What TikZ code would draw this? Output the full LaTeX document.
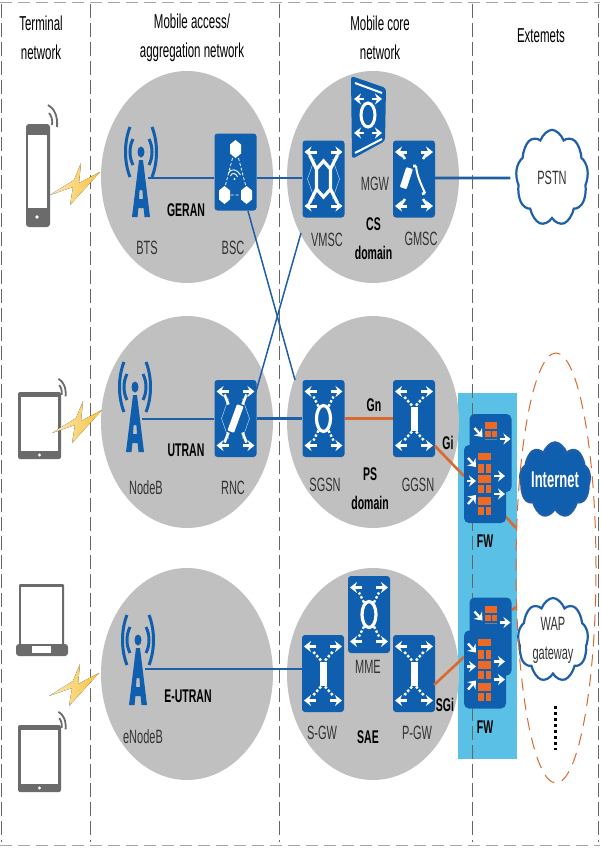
\documentclass[tikz,border=0pt]{standalone}
\usepackage{fontspec}
\setmainfont{Liberation Sans}
\usetikzlibrary{shapes.geometric,shapes.symbols,arrows.meta,calc}

\definecolor{devblue}{HTML}{0F5FAE}
\definecolor{linkblue}{HTML}{1F5FA8}
\definecolor{domaingray}{HTML}{C0C0C0}
\definecolor{fwcyan}{HTML}{5BC0E6}
\definecolor{linkorange}{HTML}{D9692F}
\definecolor{brickorange}{HTML}{EE6A24}
\definecolor{termgray}{HTML}{6B6B6B}
\definecolor{boltyellow}{HTML}{F8C440}

\tikzset{
  txt/.style={font=\fontsize{11}{16.5}\selectfont,text=black!80,yscale=1.75,transform shape,inner sep=0,align=center},
  headtxt/.style={txt,font=\fontsize{11.5}{16.5}\selectfont,text=black},
  boldtxt/.style={txt,font=\fontsize{10.5}{16.5}\selectfont\bfseries,text=black},
  graydomain/.style={ellipse,fill=domaingray,minimum width=172,minimum height=212,inner sep=0},
  devbox/.style={rectangle,rounded corners=3,fill=devblue,minimum width=42,minimum height=77,inner sep=0},
  fwbox/.style={rectangle,rounded corners=5,fill=devblue,minimum width=42,minimum height=78,inner sep=0},
  mast/.style={minimum width=14,minimum height=78,inner sep=0},
  netcloud/.style={cloud,cloud puffs=9,cloud puff arc=110,cloud ignores aspect,draw=linkblue,line width=2.2,fill=white,yscale=1.75,transform shape,minimum width=72,minimum height=55,inner sep=0,align=center,font=\fontsize{11}{16.5}\selectfont,text=black!80},
  bluelink/.style={linkblue,line width=2.6},
  thinlink/.style={linkblue,line width=1.5},
  orangelink/.style={linkorange,line width=2.6},
  sepline/.style={black!60,line width=0.8,dash pattern=on 14 off 5},
  edgeline/.style={black!35,line width=1.6,dash pattern=on 12 off 6},
  wharrow/.style={white,line width=3,-{Stealth[length=7,width=11]}},
  whline/.style={white,line width=2},
  towerpic/.pic={
    \fill[devblue] (0,0) ellipse (3.5 and 5.5);
    \draw[devblue,line width=3] (-8,-13) .. controls (-12,-5) and (-12,5) .. (-8,13);
    \draw[devblue,line width=3] (8,-13) .. controls (12,-5) and (12,5) .. (8,13);
    \draw[devblue,line width=3] (-11,-25) .. controls (-17,-10) and (-17,10) .. (-11,25);
    \draw[devblue,line width=3] (11,-25) .. controls (17,-10) and (17,10) .. (11,25);
    \fill[devblue,even odd rule] (-2,8) -- (2,8) -- (9,65) -- (3.5,65) -- (2.6,56) -- (-2.6,56) -- (-3.5,65) -- (-9,65) -- cycle
      (-1.4,38) -- (1.4,38) -- (2,47) -- (-2,47) -- cycle;
  },
  cornerspic/.pic={
    \foreach \sx in {-1,1} \foreach \sy in {-1,1} {
      \draw[wharrow] (\sx*7,\sy*27) -- (\sx*19,\sy*27);
    }
  },
  hexpic/.pic={
    \draw[white!70!devblue,line width=0.5] (-9,-20) -- (-16,0) -- (-9,20) (9,-20) -- (16,0) -- (9,20);
    \draw[whline,line width=3.2] (-7,-10) -- (0,-18) -- (7,-10) -- (7,10) -- (0,18) -- (-7,10) -- cycle;
    \foreach \sx in {-1,1} \foreach \sy in {-1,1} {
      \draw[whline,line width=3.2] (\sx*7,\sy*10) -- (\sx*14,\sy*24);
    }
  },
  ringpic/.pic={
    \draw[white,line width=3.2] (0,0) ellipse (7 and 13);
    \foreach \sx in {-1,1} \foreach \sy in {-1,1} {
      \draw[white,line width=2.4,dash pattern=on 2.5 off 2] (\sx*5,\sy*12) -- (\sx*10,\sy*22);
    }
  },
  barpic/.pic={
    \fill[white] (-3.5,-12) rectangle (3.5,12);
    \foreach \sx in {-1,1} \foreach \sy in {-1,1} {
      \draw[white,line width=2.4,dash pattern=on 2.5 off 2] (\sx*2,\sy*13) -- (\sx*10,\sy*22);
    }
  },
  slashpic/.pic={
    \draw[white!70!devblue,line width=0.5] (-7,-20) -- (-14,0) -- (-7,20) (7,-20) -- (14,0) -- (7,20);
    \fill[white,rotate=-20,rounded corners=1] (-3.5,-14) rectangle (3.5,14);
    \foreach \sx in {-1,1} \foreach \sy in {-1,1} {
      \draw[whline,line width=2.6] (\sx*7,\sy*14) -- (\sx*11,\sy*24);
    }
  },
  phonepic/.pic={
    \fill[white,rotate=-18,rounded corners=1] (-11,-9) rectangle (-4,12);
    \draw[white,line width=2] (2,-13) .. controls (3,-3) and (7,5) .. (11,14);
    \draw[white,line width=2.6] (11,14) -- (8,15) (2,-13) -- (-1,-13);
    \foreach \sx in {-1,1} \foreach \sy in {-1,1} {
      \draw[whline,line width=2.6] (\sx*9,\sy*20) -- (\sx*13,\sy*26);
    }
  },
  trianglepic/.pic={
    \foreach \hx/\hy in {0/-23,-11/23,11/23} {
      \fill[white] (\hx,\hy-9) -- (\hx+5.5,\hy-4.5) -- (\hx+5.5,\hy+4.5) -- (\hx,\hy+9) -- (\hx-5.5,\hy+4.5) -- (\hx-5.5,\hy-4.5) -- cycle;
    }
    \draw[white,line width=0.8,dash pattern=on 3 off 2] (-3,-14) -- (-10,13) (3,-14) -- (10,13) (-5,23) -- (5,23);
    \fill[white] (-1,7) circle (1.2);
    \draw[white,line width=0.9] (-5,4) .. controls (-4,0) and (1,1) .. (2,5);
    \draw[white,line width=0.9] (-7,1) .. controls (-5,-4) and (2,-3) .. (5,3);
  },
  bricksA/.pic={
    \foreach \by/\bh in {-31/7,-9/8,13/8} {
      \fill[brickorange] (-7,\by) rectangle (6,\by+\bh);
    }
    \foreach \by/\bh in {-20/9,1/8,23/8} {
      \fill[brickorange] (-7,\by) rectangle (-1.5,\by+\bh);
      \fill[brickorange] (0.5,\by) rectangle (6,\by+\bh);
    }
    \draw[wharrow,line width=2.4] (-17,-26) -- (-9,-17);
    \draw[wharrow,line width=2.4] (-18,-3) -- (-9,-3);
    \draw[wharrow,line width=2.4] (-17,20) -- (-9,11);
    \draw[wharrow,line width=2.4] (9,-8) -- (20,-8);
    \draw[wharrow,line width=2.4] (9,10) -- (20,10);
  },
  bricksB/.pic={
    \fill[brickorange] (-5.5,-31) rectangle (6.5,-24);
    \fill[brickorange] (-5.5,-22) rectangle (0,-16);
    \fill[brickorange] (1,-22) rectangle (6.5,-16);
    \draw[black!50,line width=0.8] (-5.5,-13.5) -- (6.5,-13.5);
    \draw[wharrow,line width=2.4] (-16,-25) -- (-8,-16);
    \draw[wharrow,line width=2.4] (9,-14) -- (20,-14);
  },
  termwaves/.pic={
    \draw[termgray,line width=1.8] (-2,-19) .. controls (4,-16) and (8,-8) .. (7,3);
    \draw[termgray,line width=1.8] (-1,-11) .. controls (1,-9) and (3,-4) .. (2,1);
  },
  tabletpic/.pic={
    \fill[termgray,rounded corners=2] (0,0) rectangle (43,67);
    \fill[white] (3,5) rectangle (40,59);
    \fill[white] (21.5,63) circle (1.6);
  },
  boltpic/.pic={
    \fill[left color=boltyellow!40,right color=boltyellow] (0,32) -- (24,17) -- (31,0) -- (29,20) -- (50,9) -- (20,42) -- (23,24) -- cycle;
  }
}

\begin{document}
\begin{tikzpicture}[x=1pt,y=-1pt]

\useasboundingbox (0,0) rectangle (600,849);

\node [rectangle,fill=fwcyan,minimum width=59,minimum height=366,inner sep=0] (FWzone) at (487.5,576) {};

\foreach \sx in {1,90,279,472,598} {
  \draw [sepline] (\sx,4) -- (\sx,842);
}
\draw [edgeline] (0,2.5) -- (600,2.5);
\draw [edgeline] (0,845.5) -- (600,845.5);

\node [headtxt] (Thead) at (41,37.5) {Terminal\\network};
\node [headtxt] (Ahead) at (192,37.5) {Mobile access/\\aggregation network};
\node [headtxt] (Chead) at (380,37.5) {Mobile core\\network};
\node [headtxt] (Ehead) at (541,36) {Extemets};

\node [graydomain] (geran) at (187,177) {};
\node [graydomain] (utran) at (187,422) {};
\node [graydomain] (eutran) at (187,674) {};
\node [graydomain] (cs) at (373,177) {};
\node [graydomain] (ps) at (373,422) {};
\node [graydomain] (sae) at (373,674) {};

\node [mast] (BTS) at (141,178) {};
\node [mast] (NodeB) at (135,419) {};
\node [mast] (eNodeB) at (138,669) {};
\node [devbox] (BSC) at (235.5,172) {};
\node [devbox] (VMSC) at (323.5,179) {};
\node [devbox] (GMSC) at (414,179) {};
\node [devbox] (RNC) at (235.5,418.5) {};
\node [devbox] (SGSN) at (323.5,418.5) {};
\node [devbox] (GGSN) at (414,418.5) {};
\node [devbox] (MME) at (369,614.5) {};
\node [devbox] (SGW) at (323,673.5) {};
\node [devbox] (PGW) at (414,673.5) {};

\node [netcloud] (PSTN) at (552,178) {PSTN};
\node [netcloud,fill=devblue,text=white,font=\fontsize{13}{16}\selectfont\bfseries,minimum width=70,minimum height=43] (Internet) at (555,480) {Internet};
\node [netcloud,minimum width=70,minimum height=48] (WAP) at (553,640) {WAP\\gateway};
\node [ellipse,draw=linkorange,line width=1,dash pattern=on 12 off 8,minimum width=80,minimum height=430,inner sep=0] (extern) at (556,568) {};

\coordinate (BSCcross) at (248,211);
\coordinate (SGSNcross) at (295,380);
\coordinate (RNCcross) at (255,395);
\coordinate (VMSCcross) at (301,233);
\coordinate (GiA) at (435,446);
\coordinate (GiB) at (464,476);
\coordinate (SGiA) at (434,685);
\coordinate (SGiB) at (464,657);
\coordinate (upA) at (506,517);
\coordinate (upB) at (516,528);
\coordinate (loA) at (512,610);
\coordinate (loB) at (516,607);

\draw [bluelink] (BTS.east) -- (BTS.east -| BSC.west);
\draw [bluelink] (BTS.east -| BSC.east) -- (BTS.east -| VMSC.west);
\draw [bluelink,shorten >=5] (GMSC.east |- PSTN) -- (PSTN.west);
\draw [bluelink] (NodeB.east) -- (NodeB.east -| RNC.west);
\draw [bluelink] (RNC.east) -- (SGSN.west);
\draw [bluelink] (eNodeB.east) -- (eNodeB.east -| SGW.west);
\draw [thinlink] (BSCcross) -- (SGSNcross);
\draw [thinlink] (RNCcross) -- (VMSCcross);
\draw [orangelink] (SGSN.east) -- (GGSN.west);
\draw [orangelink] (GiA) -- (GiB);
\draw [orangelink] (SGiA) -- (SGiB);
\draw [orangelink] (upA) -- (upB);
\draw [orangelink] (loA) -- (loB);

\node [fwbox] (FWa) at (490.5,453) {};
\node [fwbox] (FWb) at (485,484) {};
\node [fwbox] (FWc) at (490.5,636.5) {};
\node [fwbox] (FWd) at (485,669.5) {};
\pic at (FWa) {bricksB};
\pic at (FWb) {bricksA};
\pic at (FWc) {bricksB};
\pic at (FWd) {bricksA};

\fill [devblue,rounded corners=3] (351,76) -- (386,88) -- (385,141) -- (352,159) -- cycle;
\draw [white,line width=2] (355,83) -- (382,93);
\draw [white,line width=2] (355,153) -- (382,139);
\draw [white,line width=3] (368,115) circle [x radius=7,y radius=12];
\foreach \sx in {-1,1} \foreach \sy in {-1,1} {
  \draw [wharrow,line width=2.2] (368+\sx*4,116+\sy*17) -- (368+\sx*14,116+\sy*17);
}

\pic at ($(BTS)+(0,-26)$) {towerpic};
\pic at ($(NodeB)+(0,-32)$) {towerpic};
\pic at ($(eNodeB)+(0,-29)$) {towerpic};

\pic at (BSC) {trianglepic};
\pic at (VMSC) {cornerspic};
\pic at (VMSC) {hexpic};
\pic at (GMSC) {cornerspic};
\pic at (GMSC) {phonepic};
\pic at (RNC) {cornerspic};
\pic at (RNC) {slashpic};
\pic at (SGSN) {cornerspic};
\pic at (SGSN) {ringpic};
\pic at (GGSN) {cornerspic};
\pic at (GGSN) {barpic};
\pic at (MME) {cornerspic};
\pic at (MME) {ringpic};
\pic at (SGW) {cornerspic};
\pic at (SGW) {barpic};
\pic at (PGW) {cornerspic};
\pic at (PGW) {barpic};

\node [txt] (BTSt) at (147,248) {BTS};
\node [txt] (BSCt) at (233,248) {BSC};
\node [boldtxt] (GERANt) at (186,210) {GERAN};
\node [txt] (VMSCt) at (327,240) {VMSC};
\node [txt] (MGWt) at (375,184) {MGW};
\node [txt] (GMSCt) at (421,239) {GMSC};
\node [boldtxt] (CSt) at (373.5,238.5) {CS\\domain};
\node [txt] (NodeBt) at (146,488) {NodeB};
\node [txt] (RNCt) at (233,488) {RNC};
\node [boldtxt] (UTRANt) at (186,450) {UTRAN};
\node [txt] (SGSNt) at (325,485) {SGSN};
\node [txt] (GGSNt) at (418,485) {GGSN};
\node [boldtxt] (Gnt) at (374,405) {Gn};
\node [boldtxt] (Git) at (448,443) {Gi};
\node [boldtxt] (PSt) at (370,489) {PS\\domain};
\node [boldtxt] (FWt) at (485,541) {FW};
\node [txt] (eNodeBt) at (143,737) {eNodeB};
\node [boldtxt] (EUTRANt) at (188,696) {E-UTRAN};
\node [txt] (MMEt) at (368,667) {MME};
\node [txt] (SGWt) at (322,733) {S-GW};
\node [txt] (PGWt) at (417,733) {P-GW};
\node [boldtxt] (SAEt) at (368,737) {SAE};
\node [boldtxt] (SGit) at (445,705) {SGi};
\node [boldtxt] (FWu) at (485,727) {FW};

\draw [black,line width=3,dash pattern=on 2.5 off 3.5] (555,706) -- (555,750);

\fill [termgray,rounded corners=3] (26,124) rectangle (50,227);
\fill [white] (27.5,135) rectangle (47,208);
\fill [white] (37,217) circle (1.8);
\pic at (50,124) {termwaves};

\pic at (18,392) {tabletpic};
\pic [scale=0.8] at (60,394) {termwaves};

\fill [termgray,rounded corners=1] (19,584) rectangle (64,646);
\fill [white] (21,587) rectangle (62,644);
\fill [termgray,rounded corners=3] (16,644) rectangle (68,656);
\fill [white] (32,646) rectangle (51,653);

\pic at (18,725) {tabletpic};
\pic [scale=0.8] at (60,727) {termwaves};

\pic at (50,163) {boltpic};
\pic at (52,401) {boltpic};
\pic at (49,664) {boltpic};

\end{tikzpicture}
\end{document}
